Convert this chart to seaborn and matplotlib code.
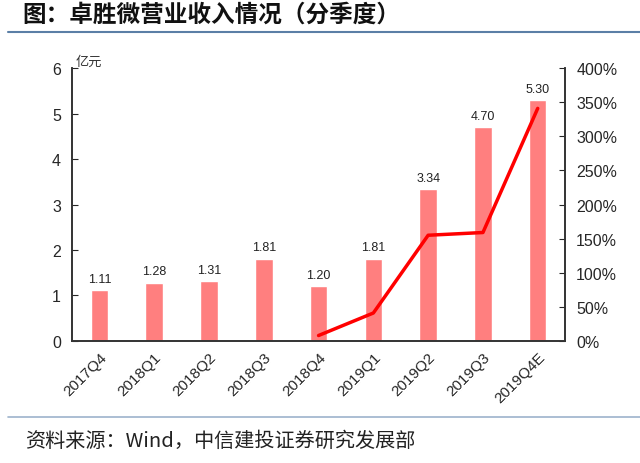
import matplotlib
matplotlib.use("Agg")
import matplotlib.pyplot as plt
import seaborn as sns
import pandas as pd
import numpy as np
from matplotlib.ticker import FixedLocator, FuncFormatter

quarters = ["2017Q4", "2018Q1", "2018Q2", "2018Q3", "2018Q4",
            "2019Q1", "2019Q2", "2019Q3", "2019Q4E"]
revenue = [1.11, 1.28, 1.31, 1.81, 1.20, 1.81, 3.34, 4.70, 5.30]
growth_quarters = ["2018Q4", "2019Q1", "2019Q2", "2019Q3", "2019Q4E"]
growth_pct = [8, 41, 155, 159, 341]

title = "图：卓胜微营业收入情况（分季度）"
source = "资料来源：Wind，中信建投证券研究发展部"
unit = "亿元"

sns.set_style("white")
plt.rcParams['font.family'] = ['Liberation Sans', 'Noto Sans CJK SC', 'DejaVu Sans']
cjk = ['Noto Sans CJK SC', 'DejaVu Sans']

fig = plt.figure(figsize=(6.4, 4.64), dpi=100)
ax = fig.add_axes([0.1125, 0.263, 0.7705, 0.588])

df = pd.DataFrame({"q": quarters, "v": revenue})
sns.barplot(data=df, x="q", y="v", ax=ax, color="#FF7F7F", saturation=1,
            width=0.32, order=quarters)
for i, v in enumerate(revenue):
    ax.text(i, v + 0.12, f"{v:.2f}", ha="center", va="bottom", fontsize=9, color="#222222")

ax.set_ylim(0, 6)
ax.set_xlim(-0.5, len(quarters) - 0.5)
ax.set_yticks(range(0, 7))
ax.set_xlabel("")
ax.set_ylabel("")
ax.tick_params(axis="y", direction="in", length=4, labelsize=11.5, pad=8)
ax.tick_params(axis="x", which="major", length=0, labelsize=11, pad=6)
ax.xaxis.set_minor_locator(FixedLocator(np.arange(-0.5, len(quarters), 1.0)))
ax.tick_params(axis="x", which="minor", direction="out", length=4, color="#333333")
for lbl in ax.get_xticklabels():
    lbl.set_rotation(45)
    lbl.set_ha("right")
    lbl.set_rotation_mode("anchor")
for s in ["left", "bottom", "right"]:
    ax.spines[s].set_color("#333333")
    ax.spines[s].set_linewidth(1.2)
ax.spines["top"].set_visible(False)

ax2 = ax.twinx()
gdf = pd.DataFrame({"x": [quarters.index(q) for q in growth_quarters], "g": growth_pct})
sns.lineplot(data=gdf, x="x", y="g", ax=ax2, color="#FF0000", linewidth=2.5)
ax2.set_ylim(0, 400)
ax2.set_yticks(range(0, 401, 50))
ax2.yaxis.set_major_formatter(FuncFormatter(lambda v, p: f"{int(v)}%"))
ax2.tick_params(axis="y", direction="in", length=4, labelsize=11.5, pad=8)
ax2.set_xlabel("")
ax2.set_ylabel("")
ax2.set_xlim(-0.5, len(quarters) - 0.5)
for s in ["left", "bottom", "right"]:
    ax2.spines[s].set_color("#333333")
    ax2.spines[s].set_linewidth(1.2)
ax2.spines["top"].set_visible(False)

ax.text(0.008, 1.0, unit, transform=ax.transAxes, fontsize=9.5, family=cjk,
        style="italic", ha="left", va="bottom", color="#333333")

fig.text(22 / 640, 1 - 15 / 464, title, fontsize=17, fontweight="bold", family=cjk,
         ha="left", va="center", color="#111111")
fig.add_artist(plt.Line2D([8 / 640, 1.0], [1 - 33 / 464] * 2, color="#5B7FA6", linewidth=1.5))
fig.add_artist(plt.Line2D([8 / 640, 1.0], [1 - 418 / 464] * 2, color="#9DB3CC", linewidth=1.2))
fig.text(25 / 640, 1 - 441 / 464, source, fontsize=14.5, family=cjk,
         ha="left", va="center", color="#222222")

fig.savefig("out.png", dpi=100)
